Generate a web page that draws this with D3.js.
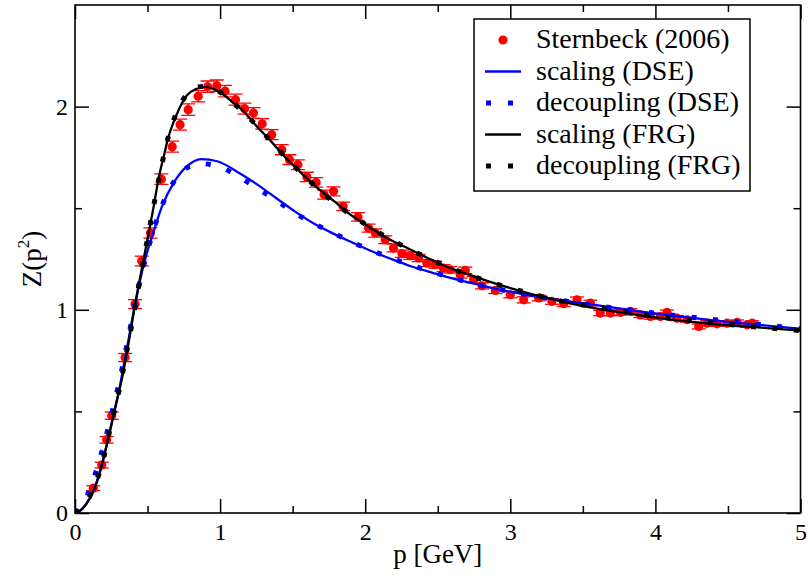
<!DOCTYPE html>
<html>
<head>
<meta charset="utf-8">
<script src="https://cdn.jsdelivr.net/npm/d3@7"></script>
<style>
html,body{margin:0;padding:0;background:#fff;}
svg{display:block;font-family:"Liberation Serif","Times New Roman",serif;}
</style>
</head>
<body>
<svg id="chart" width="808" height="578"></svg>
<script>
// ---------- data ----------
const xTicks = [0, 1, 2, 3, 4, 5];
const yTicks = [0, 1, 2];
const legendLabels = ["Sternbeck (2006)", "scaling (DSE)", "decoupling (DSE)", "scaling (FRG)", "decoupling (FRG)"];

// Lattice data: Sternbeck (2006)
const latP = [0.126,0.184,0.218,0.253,0.345,0.414,0.46,0.52,0.595,0.67,0.724,0.78,0.849,0.914,0.977,1.034,1.106,1.169,1.23,1.29,1.356,1.425,1.478,1.536,1.598,1.662,1.717,1.782,1.848,1.95,2.023,2.069,2.138,2.195,2.253,2.31,2.368,2.425,2.483,2.54,2.586,2.655,2.69,2.747,2.805,2.897,3.0,3.092,3.195,3.287,3.368,3.46,3.552,3.62,3.69,3.759,3.828,3.897,3.966,4.034,4.08,4.149,4.218,4.299,4.356,4.425,4.494,4.563,4.632,4.667];
const latZ = [0.122,0.236,0.36,0.479,0.765,1.028,1.24,1.378,1.643,1.803,1.911,1.985,2.051,2.098,2.103,2.076,2.034,1.99,1.969,1.915,1.862,1.788,1.739,1.714,1.654,1.627,1.567,1.583,1.509,1.457,1.402,1.378,1.345,1.304,1.276,1.266,1.255,1.23,1.222,1.205,1.197,1.172,1.194,1.148,1.118,1.095,1.074,1.049,1.058,1.041,1.03,1.049,1.033,0.984,0.984,0.987,0.992,0.975,0.967,0.967,0.987,0.959,0.951,0.918,0.934,0.931,0.934,0.938,0.926,0.934];
const latErr = [0.012,0.014,0.016,0.018,0.02,0.022,0.024,0.025,0.026,0.027,0.027,0.028,0.028,0.028,0.028,0.028,0.027,0.027,0.026,0.026,0.025,0.025,0.024,0.024,0.023,0.023,0.022,0.022,0.021,0.021,0.02,0.02,0.019,0.019,0.018,0.018,0.018,0.017,0.017,0.017,0.016,0.016,0.016,0.016,0.015,0.015,0.015,0.015,0.014,0.014,0.014,0.014,0.014,0.013,0.013,0.013,0.013,0.013,0.013,0.012,0.012,0.012,0.012,0.012,0.012,0.012,0.012,0.012,0.012,0.012];

// scaling (DSE)
const dseScalP = [0,0.05,0.1,0.15,0.2,0.25,0.3,0.35,0.41,0.45,0.48,0.54,0.6,0.68,0.77,0.87,0.98,1.14,1.27,1.39,1.52,1.64,1.78,1.9,2.05,2.18,2.32,2.47,2.62,2.76,2.91,3.05,3.2,3.4,3.64,4.0,4.4,4.8,5.0];
const dseScalZ = [0,0.02,0.07,0.155,0.28,0.43,0.59,0.78,1.01,1.15,1.24,1.38,1.51,1.625,1.706,1.742,1.731,1.67,1.61,1.548,1.482,1.427,1.375,1.335,1.287,1.25,1.213,1.181,1.151,1.127,1.102,1.082,1.062,1.042,1.018,0.982,0.948,0.92,0.906];

// decoupling (DSE)
const dseDecP = [0,0.04,0.08,0.12,0.16,0.2,0.25,0.3,0.35,0.4,0.45,0.5,0.53,0.58,0.64,0.72,0.8,0.86,0.93,1.0,1.13,1.26,1.39,1.51,1.64,1.78,1.95,2.15,2.4,2.7,3.0,3.3,3.7,4.1,4.5,5.0];
const dseDecZ = [0,0.03,0.08,0.15,0.24,0.34,0.48,0.63,0.8,0.98,1.15,1.29,1.365,1.475,1.578,1.668,1.71,1.72,1.715,1.703,1.654,1.596,1.537,1.479,1.427,1.378,1.32,1.262,1.2,1.138,1.09,1.052,1.01,0.975,0.945,0.906];

// scaling (FRG)
const frgScalP = [0,0.05,0.1,0.14,0.18,0.23,0.28,0.32,0.37,0.41,0.46,0.5,0.54,0.58,0.61,0.64,0.7,0.77,0.83,0.9,0.96,1.02,1.08,1.15,1.25,1.35,1.45,1.56,1.67,1.79,1.9,2.03,2.16,2.3,2.43,2.56,2.71,2.85,3.0,3.14,3.28,3.41,3.58,3.87,4.17,4.47,4.77,5.0];
const frgScalZ = [0,0.02,0.07,0.13,0.22,0.37,0.53,0.65,0.84,1.01,1.2,1.35,1.5,1.66,1.75,1.84,1.96,2.055,2.085,2.097,2.085,2.06,2.025,1.985,1.905,1.83,1.75,1.673,1.6,1.532,1.467,1.407,1.35,1.3,1.255,1.213,1.174,1.14,1.107,1.079,1.054,1.032,1.008,0.975,0.947,0.926,0.91,0.897];

// decoupling (FRG)
const frgDecP = [0,0.05,0.1,0.15,0.2,0.25,0.3,0.35,0.4,0.45,0.5,0.55,0.6,0.65,0.7,0.77,0.84,0.9,0.97,1.04,1.12,1.2,1.3,1.4,1.5,1.65,1.8,1.95,2.1,2.3,2.5,2.75,3.0,3.3,3.6,4.0,4.4,4.8,5.0];
const frgDecZ = [0,0.025,0.08,0.16,0.28,0.44,0.59,0.77,0.96,1.16,1.35,1.54,1.72,1.87,1.97,2.06,2.095,2.1,2.085,2.05,2.0,1.945,1.87,1.79,1.715,1.612,1.52,1.445,1.377,1.3,1.233,1.162,1.107,1.051,1.012,0.967,0.935,0.909,0.898];

// ---------- layout ----------
const svg = d3.select("#chart");
const L = 75, R = 800.5, T = 5, B = 513;
const x = d3.scaleLinear().domain([0, 5]).range([L, R]);
const y = d3.scaleLinear().domain([0, 2.5]).range([B, T]);

const zip = (ps, zs) => ps.map((p, i) => [p, zs[i]]);
const line = d3.line().x(d => x(d[0])).y(d => y(d[1])).curve(d3.curveMonotoneX);

svg.append("defs").append("clipPath").attr("id", "clip")
  .append("rect").attr("x", L).attr("y", T).attr("width", R - L).attr("height", B - T);

const plot = svg.append("g").attr("clip-path", "url(#clip)");

// lattice error bars + points
const lat = latP.map((p, i) => ({p, z: latZ[i], e: latErr[i]}));
const eb = plot.append("g").attr("stroke", "#ff0000").attr("stroke-width", 1.3);
lat.forEach(d => {
  const cx = x(d.p), y1 = y(d.z + d.e), y2 = y(d.z - d.e);
  eb.append("line").attr("x1", cx).attr("x2", cx).attr("y1", y1).attr("y2", y2);
  eb.append("line").attr("x1", cx - 7).attr("x2", cx + 7).attr("y1", y1).attr("y2", y1);
  eb.append("line").attr("x1", cx - 7).attr("x2", cx + 7).attr("y1", y2).attr("y2", y2);
});
plot.append("g").selectAll("circle").data(lat).join("circle")
  .attr("cx", d => x(d.p)).attr("cy", d => y(d.z)).attr("r", 4.6).attr("fill", "#ff0000");

const dotted = "5,16.5";
plot.append("path").datum(zip(dseScalP, dseScalZ)).attr("d", line)
  .attr("fill", "none").attr("stroke", "#0000ff").attr("stroke-width", 2.3);
plot.append("path").datum(zip(dseDecP, dseDecZ)).attr("d", line)
  .attr("fill", "none").attr("stroke", "#0000ff").attr("stroke-width", 5).attr("stroke-dasharray", dotted);
plot.append("path").datum(zip(frgScalP, frgScalZ)).attr("d", line)
  .attr("fill", "none").attr("stroke", "#000000").attr("stroke-width", 2.3);
plot.append("path").datum(zip(frgDecP, frgDecZ)).attr("d", line)
  .attr("fill", "none").attr("stroke", "#000000").attr("stroke-width", 5).attr("stroke-dasharray", dotted);

// ---------- axes (inward ticks on all four sides) ----------
const major = 14, minor = 7;
const xMinor = d3.range(0.5, 5, 1);
const yMinor = [0.5, 1.5];

svg.append("g").attr("transform", `translate(0,${B})`)
  .call(d3.axisBottom(x).tickValues(xTicks).tickSize(-major).tickPadding(10).tickFormat(d3.format("d")));
svg.append("g").attr("transform", `translate(0,${B})`)
  .call(d3.axisBottom(x).tickValues(xMinor).tickSize(-minor).tickFormat(""));
svg.append("g").attr("transform", `translate(0,${T})`)
  .call(d3.axisTop(x).tickValues(xTicks).tickSize(-major).tickFormat(""));
svg.append("g").attr("transform", `translate(0,${T})`)
  .call(d3.axisTop(x).tickValues(xMinor).tickSize(-minor).tickFormat(""));
svg.append("g").attr("transform", `translate(${L},0)`)
  .call(d3.axisLeft(y).tickValues(yTicks).tickSize(-major).tickPadding(7).tickFormat(d3.format("d")));
svg.append("g").attr("transform", `translate(${L},0)`)
  .call(d3.axisLeft(y).tickValues(yMinor).tickSize(-minor).tickFormat(""));
svg.append("g").attr("transform", `translate(${R},0)`)
  .call(d3.axisRight(y).tickValues(yTicks).tickSize(-major).tickFormat(""));
svg.append("g").attr("transform", `translate(${R},0)`)
  .call(d3.axisRight(y).tickValues(yMinor).tickSize(-minor).tickFormat(""));

svg.selectAll(".domain").remove();
svg.selectAll(".tick line").attr("stroke", "#000").attr("stroke-width", 1.5);
svg.selectAll(".tick text").attr("font-family", "Liberation Serif, serif").attr("font-size", 24).attr("fill", "#000");

// frame
svg.append("rect").attr("x", L).attr("y", T).attr("width", R - L).attr("height", B - T)
  .attr("fill", "none").attr("stroke", "#000").attr("stroke-width", 1.6);

// axis labels
svg.append("text").attr("x", x(2.5)).attr("y", 563).attr("text-anchor", "middle")
  .attr("font-size", 27).text("p [GeV]");
const yl = svg.append("text").attr("transform", "translate(41,259) rotate(-90)")
  .attr("text-anchor", "middle").attr("font-size", 27);
yl.append("tspan").text("Z(p");
yl.append("tspan").attr("font-size", 17).attr("dy", -12).text("2");
yl.append("tspan").attr("dy", 12).text(")");

// ---------- legend ----------
const lg = svg.append("g");
lg.append("rect").attr("x", 474).attr("y", 19).attr("width", 276).attr("height", 172)
  .attr("fill", "#fff").attr("stroke", "#000").attr("stroke-width", 1.5);
const rowY = [40, 71.5, 103, 134.5, 166];
const styles = [
  {type: "dot", color: "#ff0000"},
  {type: "line", color: "#0000ff"},
  {type: "dash", color: "#0000ff"},
  {type: "line", color: "#000000"},
  {type: "dash", color: "#000000"}
];
legendLabels.forEach((lab, i) => {
  const cy = rowY[i], st = styles[i];
  if (st.type === "dot") {
    lg.append("circle").attr("cx", 503).attr("cy", cy).attr("r", 4.6).attr("fill", st.color);
  } else if (st.type === "line") {
    lg.append("line").attr("x1", 485).attr("x2", 521).attr("y1", cy).attr("y2", cy)
      .attr("stroke", st.color).attr("stroke-width", 2.3);
  } else {
    lg.append("line").attr("x1", 486).attr("x2", 521).attr("y1", cy).attr("y2", cy)
      .attr("stroke", st.color).attr("stroke-width", 5).attr("stroke-dasharray", "5,17");
  }
  lg.append("text").attr("x", 536).attr("y", cy + 8).attr("font-size", 28).text(lab);
});
</script>
</body>
</html>
